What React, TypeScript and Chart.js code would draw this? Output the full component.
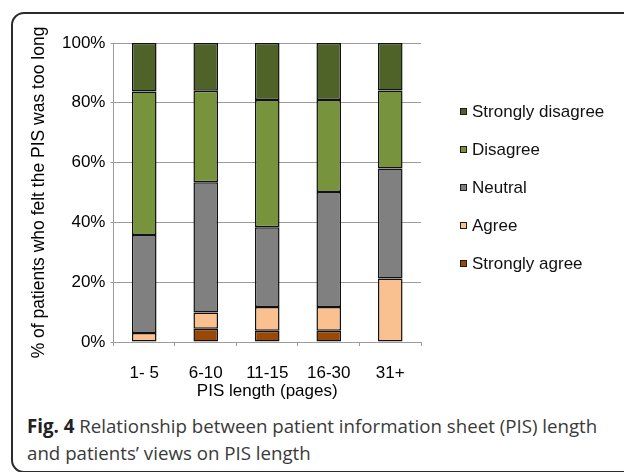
import React, { useEffect, useRef } from 'react';
import { Chart, registerables } from 'chart.js';

Chart.register(...registerables);

const categories = ['1- 5', '6-10', '11-15', '16-30', '31+'];
const stronglyAgree = [0, 4.4, 3.8, 3.8, 0];
const agree = [3.0, 5.5, 7.9, 7.9, 21.2];
const neutral = [32.8, 43.5, 26.7, 38.5, 36.8];
const disagree = [48.0, 30.6, 42.5, 30.7, 26.1];
const stronglyDisagree = [16.2, 16.0, 19.1, 19.1, 15.9];
const seriesNames = ['Strongly agree', 'Agree', 'Neutral', 'Disagree', 'Strongly disagree'];
const seriesColors = ['#984807', '#fac090', '#808080', '#77933c', '#4f6228'];
const yTickStep = 20;
const yMax = 100;

const FONT = "'Liberation Sans', Arial, sans-serif";
const GRID = '#9c9c9c';

export default function App() {
  const ref = useRef<HTMLCanvasElement>(null);

  useEffect(() => {
    const values = [stronglyAgree, agree, neutral, disagree, stronglyDisagree];
    const chart = new Chart(ref.current as HTMLCanvasElement, {
      type: 'bar',
      data: {
        labels: categories,
        datasets: values.map((v, i) => ({
          label: seriesNames[i],
          data: v,
          backgroundColor: seriesColors[i],
          borderColor: '#111',
          borderWidth: 1.5,
          borderSkipped: false,
          inflateAmount: 0,
          categoryPercentage: 1,
          barPercentage: 0.4,
        })),
      },
      options: {
        responsive: false,
        animation: false,
        devicePixelRatio: 1,
        layout: { padding: { left: 30, top: 43, right: 203, bottom: 0.5 } },
        plugins: {
          tooltip: { enabled: false },
          legend: { display: false },
        },
        scales: {
          x: {
            stacked: true,
            grid: { drawOnChartArea: false, drawTicks: true, tickLength: 4, color: GRID, offset: true },
            border: { display: true, color: GRID },
            ticks: { color: '#000', padding: 18.5, font: { family: FONT, size: 17, lineHeight: 1 } },
            title: {
              display: true,
              text: 'PIS length (pages)',
              color: '#000',
              padding: { top: 1, bottom: 0 },
              font: { family: FONT, size: 17, lineHeight: 1 },
            },
            afterFit: (s: any) => {
              s.height = 57.5;
            },
          },
          y: {
            stacked: true,
            min: 0,
            max: yMax,
            grid: { color: GRID, tickLength: 3 },
            border: { display: true, color: GRID },
            ticks: {
              stepSize: yTickStep,
              color: '#000',
              padding: 5,
              font: { family: FONT, size: 17, lineHeight: 1 },
              callback: (v: any) => `${v}%`,
            },
            title: {
              display: true,
              text: '% of patients who felt the PIS was too long',
              color: '#000',
              padding: { top: 0, bottom: 9.5 },
              font: { family: FONT, size: 17.5, lineHeight: 1 },
            },
          },
        },
      },
    } as any);
    return () => chart.destroy();
  }, []);

  const legendOrder = [4, 3, 2, 1, 0];

  return (
    <div
      style={{
        position: 'absolute',
        left: 0,
        top: 0,
        width: 624,
        height: 472,
        overflow: 'hidden',
        background: '#fff',
      }}
    >
      <div
        style={{
          position: 'absolute',
          left: 11,
          top: 12,
          width: 700,
          height: 461,
          boxSizing: 'border-box',
          border: '2px solid #2b2b2b',
          borderRadius: 13,
        }}
      />
      <div style={{ position: 'absolute', left: 0, top: 0, width: 624, height: 400 }}>
        <canvas ref={ref} width={624} height={400} style={{ width: 624, height: 400, display: 'block' }} />
      </div>
      {legendOrder.map((idx, i) => (
        <div
          key={seriesNames[idx]}
          style={{
            position: 'absolute',
            left: 460,
            top: 103 + i * 38,
            height: 17,
            display: 'flex',
            alignItems: 'center',
            fontFamily: FONT,
            fontSize: 17,
            lineHeight: '17px',
            color: '#111',
            whiteSpace: 'nowrap',
          }}
        >
          <span
            style={{
              display: 'inline-block',
              width: 7,
              height: 7,
              boxSizing: 'border-box',
              border: '1px solid #1c1c1c',
              background: seriesColors[idx],
              marginRight: 5,
            }}
          />
          <span>{seriesNames[idx]}</span>
        </div>
      ))}
      <div
        style={{
          position: 'absolute',
          left: 27,
          top: 412,
          width: 590,
          fontFamily: "'Open Sans', 'Noto Sans', sans-serif",
          fontSize: 18.7,
          lineHeight: '27px',
          color: '#3a3a3a',
          whiteSpace: 'nowrap',
        }}
      >
        <span style={{ fontWeight: 700, color: '#222' }}>Fig. 4</span> Relationship between patient information sheet (PIS) length
        <br />
        and patients’ views on PIS length
      </div>
    </div>
  );
}
